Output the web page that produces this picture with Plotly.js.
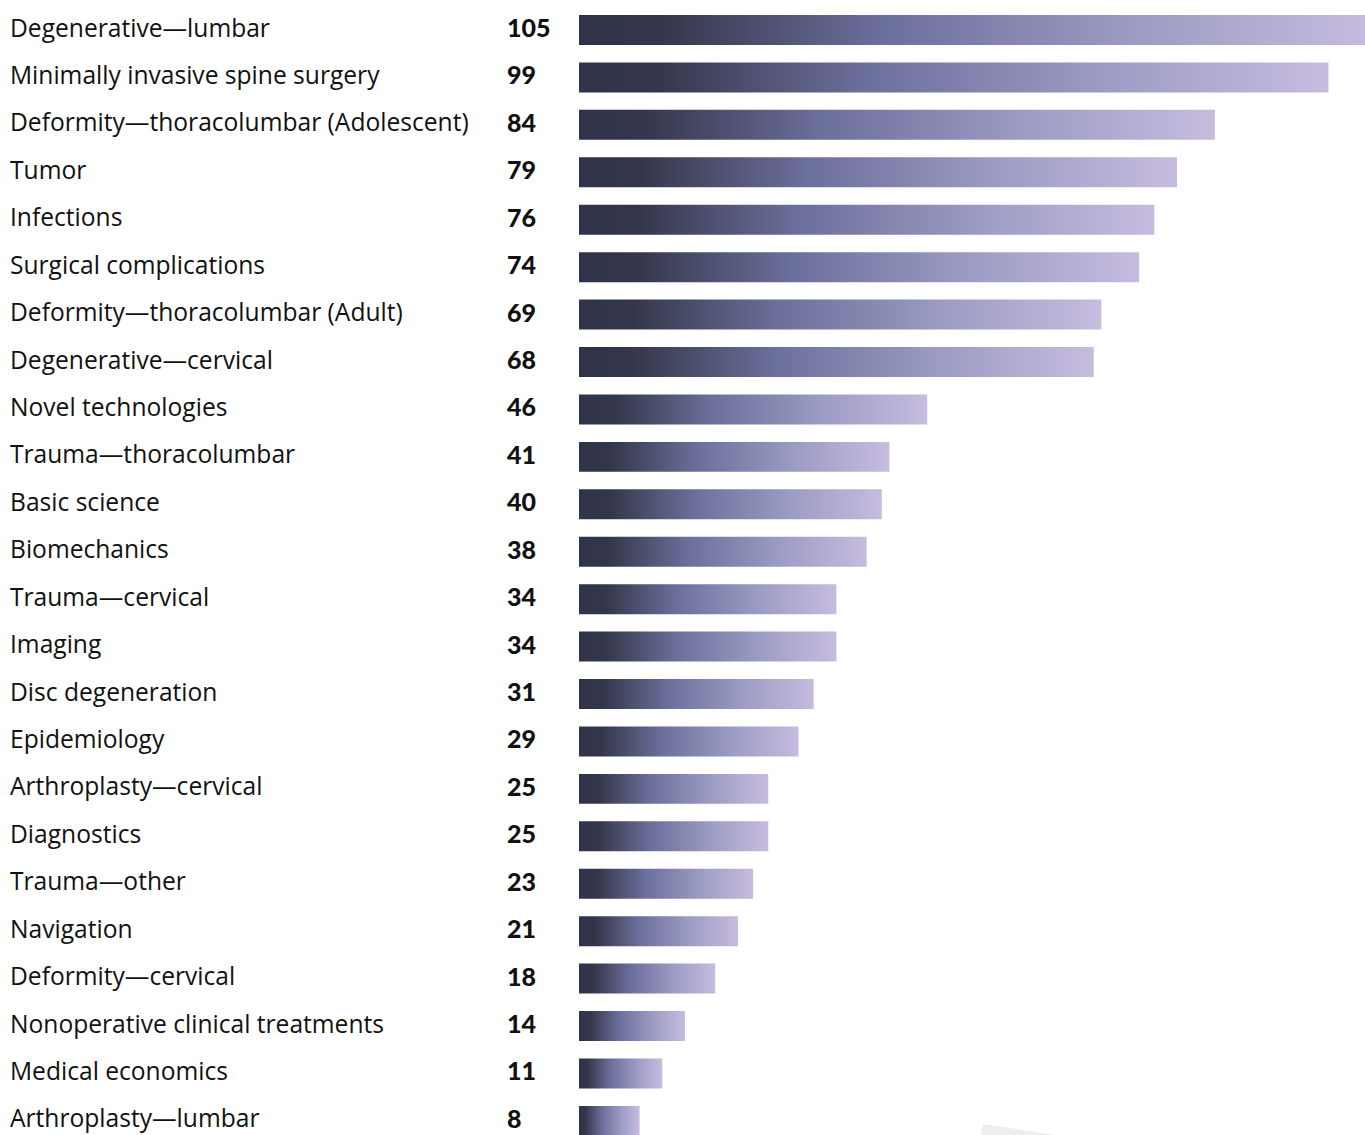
<!DOCTYPE html>
<html>
<head>
<meta charset="utf-8">
<script src="https://cdn.plot.ly/plotly-3.0.1.min.js"></script>
<style>html,body{margin:0;padding:0;background:#fff;}#chart{width:1365px;height:1135px;}</style>
</head>
<body>
<div id="chart"></div>
<script>
const categories = [
  "Degenerative\u2014lumbar",
  "Minimally invasive spine surgery",
  "Deformity\u2014thoracolumbar (Adolescent)",
  "Tumor",
  "Infections",
  "Surgical complications",
  "Deformity\u2014thoracolumbar (Adult)",
  "Degenerative\u2014cervical",
  "Novel technologies",
  "Trauma\u2014thoracolumbar",
  "Basic science",
  "Biomechanics",
  "Trauma\u2014cervical",
  "Imaging",
  "Disc degeneration",
  "Epidemiology",
  "Arthroplasty\u2014cervical",
  "Diagnostics",
  "Trauma\u2014other",
  "Navigation",
  "Deformity\u2014cervical",
  "Nonoperative clinical treatments",
  "Medical economics",
  "Arthroplasty\u2014lumbar"
];
const counts = [105, 99, 84, 79, 76, 74, 69, 68, 46, 41, 40, 38, 34, 34, 31, 29, 25, 25, 23, 21, 18, 14, 11, 8];

const W = 1365, H = 1135;
const barHalf = 0.316;
const gradient = [
  [0, '#30344a'],
  [0.1, '#333649'],
  [0.38, '#6b6f9b'],
  [0.7, '#9c9cc4'],
  [1, '#c6bcde']
];

const traces = counts.map((v, i) => ({
  type: 'scatter',
  mode: 'lines',
  x: [0, v, v, 0, 0],
  y: [i - barHalf, i - barHalf, i + barHalf, i + barHalf, i - barHalf],
  fill: 'toself',
  fillgradient: {type: 'horizontal', colorscale: gradient},
  line: {width: 0, color: 'rgba(0,0,0,0)'},
  hoverinfo: 'skip',
  showlegend: false
}));

const annotations = [];
categories.forEach((c, i) => {
  annotations.push({
    xref: 'paper', yref: 'y', x: 8 / W, y: i, yshift: 3,
    xanchor: 'left', yanchor: 'middle', showarrow: false,
    text: c,
    font: {family: '"Open Sans", Lato, sans-serif', size: 24.6, color: '#111'}
  });
  annotations.push({
    xref: 'paper', yref: 'y', x: 505 / W, y: i, yshift: 3,
    xanchor: 'left', yanchor: 'middle', showarrow: false,
    text: String(counts[i]),
    font: {family: 'Lato, sans-serif', size: 25, color: '#111', weight: 900}
  });
});

const layout = {
  width: W, height: H,
  margin: {l: 0, r: 0, t: 0, b: 0, pad: 0},
  paper_bgcolor: '#ffffff', plot_bgcolor: '#ffffff',
  xaxis: {domain: [579 / W, 1], range: [0, (W - 579) / 7.57], visible: false, fixedrange: true},
  yaxis: {range: [(H - 30) / 47.43, -30 / 47.43], visible: false, fixedrange: true},
  annotations: annotations,
  shapes: [{
    type: 'path', xref: 'paper', yref: 'paper', layer: 'below',
    path: 'M ' + (983 / W) + ' ' + (1 - 1124 / H) + ' L ' + (1055 / W) + ' ' + (1 - 1135 / H) + ' L ' + (981 / W) + ' 0 Z',
    fillcolor: '#eeeeee', line: {width: 0}
  }],
  showlegend: false
};

Plotly.newPlot('chart', traces, layout, {displayModeBar: false, staticPlot: true});
</script>
</body>
</html>
